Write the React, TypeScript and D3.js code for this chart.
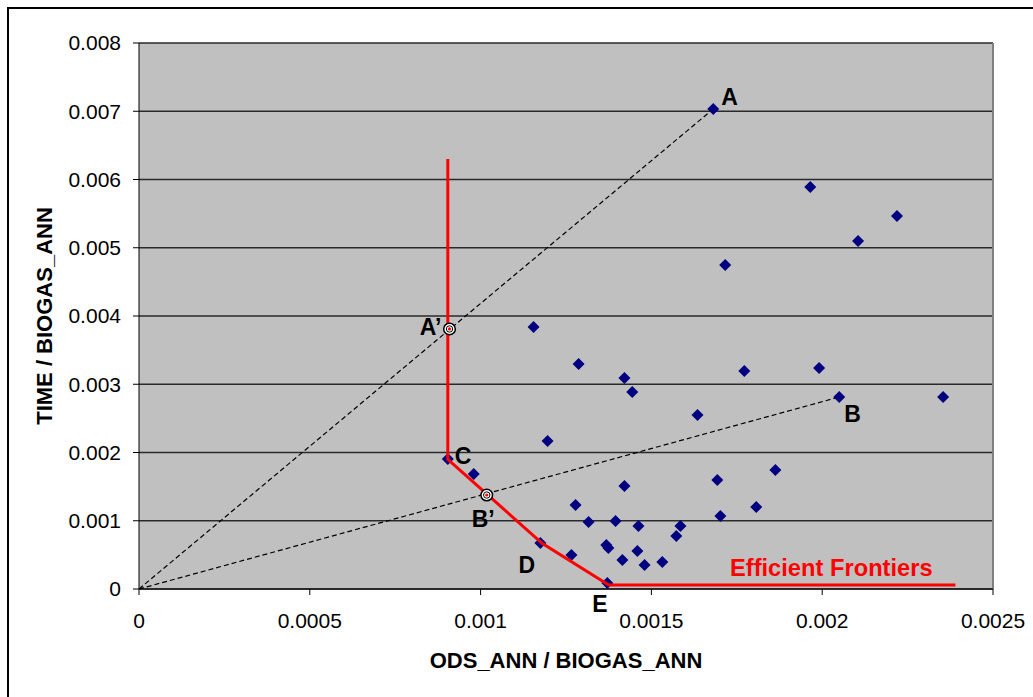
import React from "react";
import * as d3 from "d3";

// units (ODS_ANN / BIOGAS_ANN, TIME / BIOGAS_ANN)
const unitsX = [
  0.001681, 0.001965, 0.002219, 0.002105, 0.001716, 0.001155, 0.001287, 0.001421,
  0.001444, 0.001772, 0.001991, 0.00205, 0.002354, 0.001635, 0.001196, 0.000904,
  0.00098, 0.001421, 0.001863, 0.001693, 0.001278, 0.001316, 0.001395, 0.001462,
  0.001585, 0.001573, 0.001702, 0.001807, 0.001175, 0.001368, 0.001374, 0.001266,
  0.001415, 0.001459, 0.00148, 0.001532, 0.001371,
];
const unitsY = [
  0.007033, 0.00589, 0.005465, 0.005099, 0.004747, 0.003839, 0.003297, 0.003092,
  0.002886, 0.003194, 0.003238, 0.002813, 0.002813, 0.00255, 0.002168, 0.001905,
  0.001685, 0.001509, 0.001744, 0.001597, 0.001231, 0.000982, 0.000996, 0.000923,
  0.000923, 0.000777, 0.00107, 0.001201, 0.000674, 0.000645, 0.000601, 0.000498,
  0.000425, 0.000557, 0.000352, 0.000396, 0.000088,
];

// efficient frontier polyline
const frontierX = [0.000904, 0.000904, 0.00118, 0.001375, 0.00239];
const frontierY = [0.0063, 0.0019, 0.00067, 0.00006, 0.00006];

// projections of A and B onto the frontier
const projNames = ["A\u2019", "B\u2019"];
const projX = [0.000909, 0.001018];
const projY = [0.00381, 0.001377];

// rays from origin to A and B
const rayX = [0.001681, 0.00205];
const rayY = [0.007033, 0.002813];

// letter labels: point index in units
const labelNames = ["A", "B", "C", "D", "E"];
const labelIdx = [0, 11, 15, 28, 36];

const xTicks = [0, 0.0005, 0.001, 0.0015, 0.002, 0.0025];
const yTicks = [0, 0.001, 0.002, 0.003, 0.004, 0.005, 0.006, 0.007, 0.008];

const W = 1033;
const H = 697;
const margin = { top: 43, right: 40, bottom: 108, left: 139 };
const FONT = "Arial, 'Liberation Sans', sans-serif";

const App = () => {
  const x = d3.scaleLinear().domain([0, 0.0025]).range([margin.left, W - margin.right]);
  const y = d3.scaleLinear().domain([0, 0.008]).range([H - margin.bottom, margin.top]);

  const line = d3
    .line<[number, number]>()
    .x((d) => x(d[0]))
    .y((d) => y(d[1]));

  const frontier = frontierX.map((v, i) => [v, frontierY[i]] as [number, number]);
  const diamond = (cx: number, cy: number, r = 6) =>
    `M${cx},${cy - r}L${cx + r},${cy}L${cx},${cy + r}L${cx - r},${cy}Z`;

  // label offsets in px from their points
  const labelOff: Record<string, [number, number]> = {
    A: [8, -4],
    B: [5, 25],
    C: [7, 5],
    D: [-22, 30],
    E: [-15, 29],
  };

  const x0 = x(0);
  const x1 = x(0.0025);
  const y0 = y(0);
  const y1 = y(0.008);

  return (
    <svg
      width={W}
      height={H}
      style={{ position: "absolute", left: 0, top: 0, background: "#fff" }}
      fontFamily={FONT}
    >
      {/* outer chart border */}
      <rect x={8} y={8} width={W + 20} height={H + 20} fill="#fff" stroke="#000" strokeWidth={2} />

      {/* plot area */}
      <rect x={x0} y={y1} width={x1 - x0} height={y0 - y1} fill="#c0c0c0" />
      {yTicks.map((t) => (
        <line key={"g" + t} x1={x0} x2={x1} y1={y(t)} y2={y(t)} stroke="#2a2a2a" strokeWidth={1.6} />
      ))}
      <line x1={x1} x2={x1} y1={y1} y2={y0} stroke="#808080" strokeWidth={2} />

      {/* axes */}
      <line x1={x0} x2={x0} y1={y1} y2={y0} stroke="#000" strokeWidth={1} />
      <line x1={x0} x2={x1} y1={y0} y2={y0} stroke="#000" strokeWidth={1} />
      {yTicks.map((t) => (
        <g key={"yt" + t}>
          <line x1={x0 - 6} x2={x0} y1={y(t)} y2={y(t)} stroke="#000" />
          <text x={x0 - 18} y={y(t)} dy="0.35em" textAnchor="end" fontSize={21}>
            {t === 0 ? "0" : d3.format(".3f")(t)}
          </text>
        </g>
      ))}
      {xTicks.map((t) => (
        <g key={"xt" + t}>
          <line x1={x(t)} x2={x(t)} y1={y0} y2={y0 + 6} stroke="#000" />
          <text x={x(t)} y={y0 + 39} textAnchor="middle" fontSize={21}>
            {t === 0 ? "0" : String(+t.toFixed(4))}
          </text>
        </g>
      ))}

      {/* axis titles */}
      <text x={(x0 + x1) / 2} y={668} textAnchor="middle" fontSize={22} fontWeight="bold">
        ODS_ANN / BIOGAS_ANN
      </text>
      <text
        transform={`translate(52,${(y0 + y1) / 2}) rotate(-90)`}
        textAnchor="middle"
        fontSize={22}
        fontWeight="bold"
      >
        TIME / BIOGAS_ANN
      </text>

      {/* dashed rays */}
      {rayX.map((v, i) => (
        <line
          key={"ray" + i}
          x1={x(0)}
          y1={y(0)}
          x2={x(v)}
          y2={y(rayY[i])}
          stroke="#000"
          strokeWidth={1.2}
          strokeDasharray="5,3"
        />
      ))}

      {/* units */}
      {unitsX.map((v, i) => (
        <path key={"u" + i} d={diamond(x(v), y(unitsY[i]))} fill="#000080" />
      ))}

      {/* efficient frontier */}
      <path d={line(frontier) || ""} fill="none" stroke="#ff0000" strokeWidth={3} />

      {/* projections */}
      {projX.map((v, i) => (
        <g key={"p" + i}>
          <circle cx={x(v)} cy={y(projY[i])} r={5.8} fill="#fff" stroke="#000" strokeWidth={1.5} />
          <circle cx={x(v)} cy={y(projY[i])} r={3.2} fill="none" stroke="#000" strokeWidth={1} />
          <circle cx={x(v)} cy={y(projY[i])} r={1.6} fill="#ff0000" />
        </g>
      ))}
      <text x={x(projX[0]) - 8} y={y(projY[0]) + 6} textAnchor="end" fontSize={23} fontWeight="bold">
        {projNames[0]}
      </text>
      <text x={x(projX[1]) - 15} y={y(projY[1]) + 32} fontSize={23} fontWeight="bold">
        {projNames[1]}
      </text>

      {/* letter labels */}
      {labelNames.map((n, i) => {
        const k = labelIdx[i];
        const [dx, dy] = labelOff[n];
        return (
          <text key={n} x={x(unitsX[k]) + dx} y={y(unitsY[k]) + dy} fontSize={23} fontWeight="bold">
            {n}
          </text>
        );
      })}

      <text x={x(0.00173)} y={y(0.00019)} fontSize={23.7} fontWeight="bold" fill="#ff0000">
        Efficient Frontiers
      </text>
    </svg>
  );
};

export default App;
